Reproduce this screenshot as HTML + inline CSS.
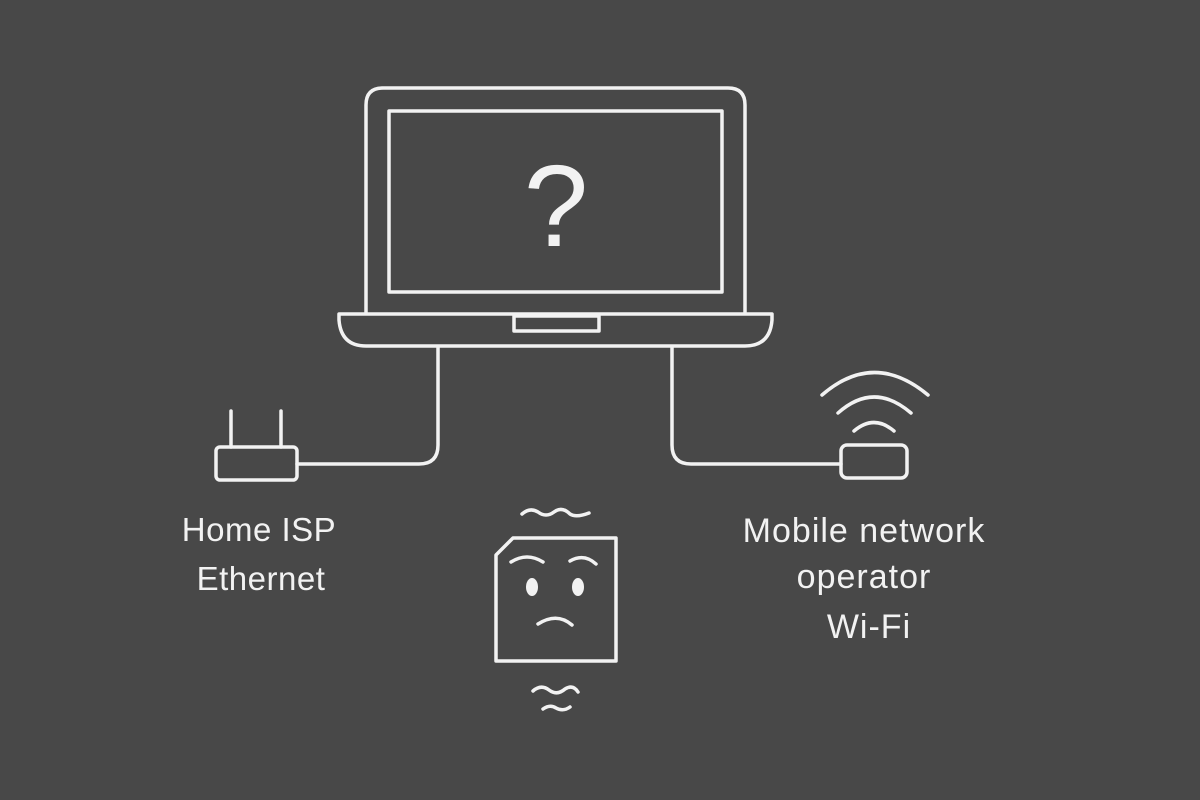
<!DOCTYPE html>
<html><head><meta charset="utf-8"><style>
html,body{margin:0;padding:0;background:#484848;}
svg{display:block}
text{font-family:"Liberation Sans",sans-serif;fill:#f2f2f2;}
</style></head><body>
<svg width="1200" height="800" viewBox="0 0 1200 800" xmlns="http://www.w3.org/2000/svg">
<rect width="1200" height="800" fill="#484848"/>
<g fill="none" stroke="#f2f2f2" stroke-width="3.5" stroke-linecap="round" stroke-linejoin="round">
<path d="M366 313 V105 Q366 88 383 88 H728 Q745 88 745 105 V313"/>
<rect x="389" y="111" width="333" height="181"/>
<path d="M339 314 H772 V320 Q770 346 745 346 H366 Q341 346 339 320 Z"/>
<rect x="514" y="316" width="85" height="15"/>
<path d="M438 347 V445 Q438 464 419 464 H297"/>
<path d="M672 347 V445 Q672 464 691 464 H841"/>
<rect x="216" y="447" width="81" height="33" rx="4"/>
<line x1="231" y1="411" x2="231" y2="447"/>
<line x1="281" y1="411" x2="281" y2="447"/>
<rect x="841" y="445" width="66" height="33" rx="6"/>
<path d="M854 431 Q874 414 894 431"/>
<path d="M838 413 Q874 381 911 413"/>
<path d="M822 395 Q874 350 928 395"/>
<path d="M513 538 H616 V661 H496 V555 Z"/>
<path d="M511 562 Q527 552 543 562"/>
<path d="M570 561 Q584 553 596 564"/>
<path d="M538 624 Q557 612 572 625"/>
<path d="M522 514 Q530 507 538 512 Q546 518 554 512 Q562 506 570 514 Q576 518 589 513"/>
<path d="M533 691 Q541 684 549 690 Q557 696 565 689 Q573 684 578 692"/>
<path d="M543 709 Q550 704 556 708 Q563 712 570 707"/>
</g>
<ellipse cx="532" cy="587" rx="6" ry="9" fill="#f2f2f2"/>
<ellipse cx="578" cy="587" rx="6" ry="9" fill="#f2f2f2"/>
<text x="556" y="246" font-size="116" text-anchor="middle">?</text>
<text x="259" y="541" font-size="33" text-anchor="middle" letter-spacing="0.5">Home ISP</text>
<text x="261" y="590" font-size="33" text-anchor="middle" letter-spacing="0.5">Ethernet</text>
<text x="864" y="542" font-size="34" text-anchor="middle" letter-spacing="1">Mobile network</text>
<text x="864" y="588" font-size="34" text-anchor="middle" letter-spacing="1">operator</text>
<text x="869" y="638" font-size="34" text-anchor="middle" letter-spacing="1">Wi-Fi</text>
</svg>
</body></html>
